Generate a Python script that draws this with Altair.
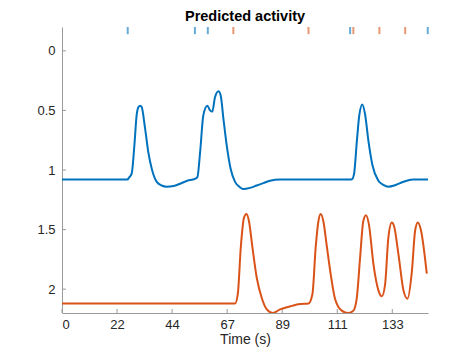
import altair as alt
import pandas as pd

# ---- data ----
blue_t = [0, 26.5, 26.8, 28.1, 29.2, 30.1, 30.9, 31.5, 32.1, 33.5,
          34.8, 36.2, 38.2, 40.2, 42.2, 45.0, 47.6, 50.5, 53.6, 54.6,
          55.7, 57.0, 58.6, 59.7, 60.6, 61.7, 63.1, 64.0, 65.1, 66.4,
          68.0, 69.8, 71.5, 73.1, 75.8, 78.5, 81.2, 83.9, 87.9, 92.0,
          116.2, 116.9, 117.8, 118.9, 119.9, 121.1, 122.2, 123.6, 125.2, 127.6,
          129.6, 131.6, 134.0, 136.3, 139.0, 141.7, 144.5, 147.6]
blue_v = [1.08, 1.08, 1.07, 1.03, 0.79, 0.54, 0.47, 0.46, 0.47, 0.65,
          0.85, 0.99, 1.10, 1.13, 1.14, 1.135, 1.115, 1.09, 1.075, 1.06,
          0.85, 0.54, 0.46, 0.50, 0.51, 0.39, 0.34, 0.375, 0.57, 0.79,
          0.99, 1.10, 1.14, 1.16, 1.15, 1.13, 1.11, 1.09, 1.08, 1.08,
          1.08, 1.078, 1.03, 0.76, 0.54, 0.45, 0.53, 0.76, 0.96, 1.09,
          1.125, 1.14, 1.13, 1.11, 1.09, 1.08, 1.08, 1.08]

orange_t = [0, 69.8, 70.9, 72.1, 73.4, 74.4, 75.4, 76.8, 78.5, 80.5,
            82.6, 85.0, 87.9, 92.7, 96.0, 99.4, 101.0, 102.3, 103.4, 104.3,
            105.4, 106.8, 108.4, 110.1, 112.8, 115.5, 117.5, 118.9, 120.2, 121.5,
            122.6, 123.8, 125.6, 127.6, 129.0, 130.3, 131.6, 133.0, 133.9, 135.7,
            137.7, 139.3, 141.1, 142.4, 143.5, 144.7, 147.1]
orange_v = [2.12, 2.12, 2.04, 1.65, 1.40, 1.37, 1.43, 1.65, 1.90, 2.07,
            2.17, 2.20, 2.17, 2.14, 2.125, 2.12, 2.04, 1.65, 1.43, 1.37,
            1.43, 1.64, 1.88, 2.08, 2.18, 2.20, 2.18, 2.07, 1.74, 1.43,
            1.38, 1.46, 1.79, 2.01, 2.06, 1.96, 1.57, 1.44, 1.47, 1.71,
            2.01, 2.08, 1.85, 1.51, 1.44, 1.50, 1.87]

blue_events = [26.5, 53.6, 58.8, 116.2, 147.5]
orange_events = [69.1, 99.4, 117.5, 128.0, 138.4]

x_ticks = [0, 22.2, 44.4, 66.6, 88.8, 111.0, 133.2]
y_ticks = [0, 0.5, 1, 1.5, 2]

series = ["blue", "orange"]
colors = ["#0072BD", "#D95319"]

# ---- tables ----
lines = pd.DataFrame({
    "t": blue_t + orange_t,
    "v": blue_v + orange_v,
    "s": [series[0]] * len(blue_t) + [series[1]] * len(orange_t),
})
events = pd.DataFrame({
    "t": blue_events + orange_events,
    "s": [series[0]] * len(blue_events) + [series[1]] * len(orange_events),
})
xt = pd.DataFrame({"t": x_ticks})
yt = pd.DataFrame({"v": y_ticks})

FONT = "Liberation Sans"
AXC = "#9a9a9a"
LBL = "#262626"
H = 286

xscale = alt.Scale(domain=[0, 147.6], nice=False, zero=False)
yscale = alt.Scale(domain=[-0.2, 2.2], reverse=True, nice=False, zero=False)
cscale = alt.Scale(domain=series, range=colors)

xaxis = alt.Axis(values=x_ticks, format=".0f", title="Time (s)", ticks=False,
                 grid=False, labelPadding=5, titlePadding=1)
yaxis = alt.Axis(values=y_ticks, format="~g", title=None, ticks=False,
                 grid=False, labelPadding=7)

line = alt.Chart(lines).mark_line(strokeWidth=2, interpolate="monotone", clip=True).encode(
    x=alt.X("t:Q", scale=xscale, axis=xaxis),
    y=alt.Y("v:Q", scale=yscale, axis=yaxis),
    color=alt.Color("s:N", scale=cscale, legend=None),
)

ev = alt.Chart(events).mark_rule(strokeWidth=2, opacity=0.6).encode(
    x=alt.X("t:Q", scale=xscale),
    y=alt.datum(-0.2),
    y2=alt.datum(-0.14),
    color=alt.Color("s:N", scale=cscale, legend=None),
)

xtk = alt.Chart(xt).mark_rule(color=AXC, strokeWidth=1).encode(
    x=alt.X("t:Q", scale=xscale),
    y=alt.value(H),
    y2=alt.value(H - 4),
)
ytk = alt.Chart(yt).mark_rule(color=AXC, strokeWidth=1).encode(
    y=alt.Y("v:Q", scale=yscale),
    x=alt.value(0),
    x2=alt.value(4),
)

chart = alt.layer(ev, xtk, ytk, line).properties(
    width=366,
    height=H,
    title=alt.TitleParams("Predicted activity", fontSize=14.5, fontWeight="bold",
                          font=FONT, color="#000000", offset=2),
    autosize=alt.AutoSizeParams(type="none"),
    padding={"left": 54, "top": 19, "right": 38, "bottom": 34},
).configure_view(stroke=None).configure_axis(
    domainColor=AXC, domainWidth=1, labelFont=FONT, labelFontSize=13,
    labelColor=LBL, titleFont=FONT, titleFontSize=14, titleColor=LBL,
    titleFontWeight="normal",
)

chart.save("out.html", embed_options={"renderer": "svg", "actions": False})
